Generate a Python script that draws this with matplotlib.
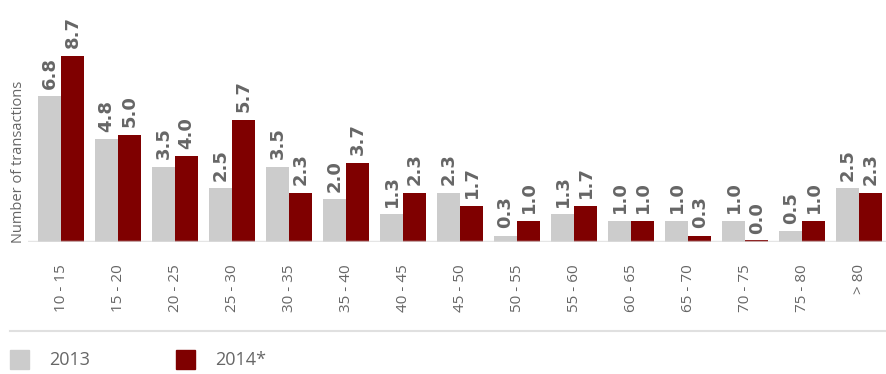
import matplotlib

matplotlib.use("Agg")
import matplotlib.pyplot as plt
from matplotlib.patches import Rectangle
import numpy as np

plt.rcParams["font.family"] = ["Open Sans", "DejaVu Sans"]

CATEGORIES = ["10 - 15", "15 - 20", "20 - 25", "25 - 30", "30 - 35", "35 - 40",
              "40 - 45", "45 - 50", "50 - 55", "55 - 60", "60 - 65", "65 - 70",
              "70 - 75", "75 - 80", "> 80"]
VALUES_2013 = [6.8, 4.8, 3.5, 2.5, 3.5, 2.0, 1.3, 2.3, 0.3, 1.3, 1.0, 1.0, 1.0, 0.5, 2.5]
VALUES_2014 = [8.7, 5.0, 4.0, 5.7, 2.3, 3.7, 2.3, 1.7, 1.0, 1.7, 1.0, 0.3, 0.0, 1.0, 2.3]
SERIES_NAMES = ["2013", "2014*"]

GREY = "#cccccc"
RED = "#7f0000"
TEXT = "#666666"

fig = plt.figure(figsize=(8.86, 3.74), dpi=100)
ax = fig.add_axes([28 / 886, 1 - 242 / 374, (886 - 28) / 886, 242 / 374])

x = np.arange(len(CATEGORIES))
w = 0.404
ax.bar(x - w / 2, VALUES_2013, w, color=GREY, zorder=2)
ax.bar(x + w / 2, VALUES_2014, w, color=RED, zorder=2)
# thin sliver so zero values still show like the source
ax.bar(x + w / 2, [0.14] * len(x), w, bottom=-0.03, color=RED, zorder=2)
ax.axhline(0, color="#dddddd", lw=2.5, alpha=0.75, zorder=3)

for xs, vals in ((x - w / 2, VALUES_2013), (x + w / 2, VALUES_2014)):
    for xi, v in zip(xs, vals):
        ax.annotate(f"{v:.1f}", (xi, v), xytext=(0, 5.5), textcoords="offset points",
                    rotation=90, ha="center", va="bottom", fontsize=13,
                    fontweight="bold", color=TEXT, family="DejaVu Sans")

ax.set_xlim(-0.579, 14.47)
ax.set_ylim(0, 11.3)
ax.set_xticks(x)
ax.set_xticklabels(CATEGORIES, rotation=90, fontsize=11, color=TEXT)
ax.tick_params(axis="x", length=0, pad=16)
ax.set_yticks([])
for s in ax.spines.values():
    s.set_visible(False)
ax.set_ylabel("Number of transactions", fontsize=10.5, color=TEXT)
ax.yaxis.set_label_coords(-0.002, 0.33)

# separator line above the legend
fig.add_artist(plt.Line2D([10 / 886, 1], [1 - 331 / 374] * 2, color="#e0e0e0",
                          lw=1.5, transform=fig.transFigure))

for (px, name, col) in ((10, SERIES_NAMES[0], GREY), (176, SERIES_NAMES[1], RED)):
    fig.add_artist(Rectangle((px / 886, 1 - 369 / 374), 19 / 886, 19 / 374,
                             color=col, transform=fig.transFigure))
    fig.text((px + 39) / 886, 1 - 360 / 374, name, fontsize=13, color=TEXT,
             va="center", ha="left")

fig.savefig("out.png", dpi=100)
